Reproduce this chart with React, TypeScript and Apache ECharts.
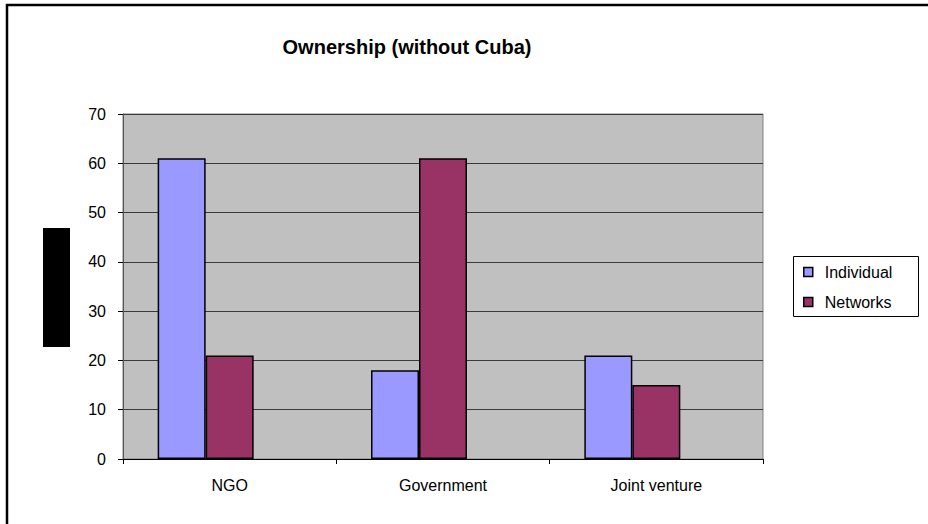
import React, { useEffect, useRef } from "react";
import * as echarts from "echarts";

const titleText = "Ownership (without Cuba)";
const categories = ["NGO", "Government", "Joint venture"];
const seriesNames = ["Individual", "Networks"];
const individualValues = [61, 18, 21];
const networksValues = [21, 61, 15];
// empty third series slot in the original workbook (reserves space in each group)
const emptyValues: (number | null)[] = [null, null, null];
const yTicks = { min: 0, max: 70, interval: 10 };

const FONT = "Liberation Sans, Arial, sans-serif";

export default function App() {
  const ref = useRef<HTMLDivElement>(null);
  useEffect(() => {
    if (!ref.current) return;
    const chart = echarts.init(ref.current, null, { renderer: "svg" });
    chart.setOption({
      animation: false,
      backgroundColor: "#ffffff",
      title: {
        text: titleText,
        left: 402,
        top: 32,
        textAlign: "center",
        textStyle: { fontFamily: FONT, fontSize: 20, fontWeight: "bold", color: "#000" },
      },
      grid: {
        left: 123,
        right: 165,
        top: 114,
        bottom: 65,
        show: true,
        backgroundColor: "#C0C0C0",
        borderColor: "#808080",
        borderWidth: 1,
      },
      legend: {
        data: seriesNames,
        orient: "vertical",
        left: 803,
        top: 264,
        padding: 0,
        itemGap: 14,
        itemWidth: 9,
        itemHeight: 9,
        icon: "rect",
        itemStyle: { borderColor: "#000", borderWidth: 1.5 },
        textStyle: { fontFamily: FONT, fontSize: 16, color: "#000", lineHeight: 16, padding: [0, 0, 0, 7] },
      },
      xAxis: {
        type: "category",
        data: categories,
        axisLine: { show: true, lineStyle: { color: "#000", width: 1 } },
        axisTick: { show: true, length: 5, inside: false, lineStyle: { color: "#000" } },
        axisLabel: { fontFamily: FONT, fontSize: 16, color: "#000", margin: 18 },
        splitLine: { show: false },
      },
      yAxis: {
        type: "value",
        min: yTicks.min,
        max: yTicks.max,
        interval: yTicks.interval,
        axisLine: { show: true, lineStyle: { color: "#555", width: 1 } },
        axisTick: { show: true, length: 5, inside: false, lineStyle: { color: "#000" } },
        axisLabel: { fontFamily: FONT, fontSize: 16, color: "#000", margin: 17 },
        splitLine: { show: true, lineStyle: { color: "#3a3a3a", width: 1 } },
      },
      series: [
        {
          name: seriesNames[0],
          type: "bar",
          data: individualValues,
          barGap: "0%",
          barCategoryGap: "32.5%",
          itemStyle: { color: "#9999FF", borderColor: "#000", borderWidth: 1.5 },
        },
        {
          name: seriesNames[1],
          type: "bar",
          data: networksValues,
          barGap: "0%",
          barCategoryGap: "32.5%",
          itemStyle: { color: "#993366", borderColor: "#000", borderWidth: 1.5 },
        },
        {
          name: "_empty",
          type: "bar",
          data: emptyValues,
          barGap: "0%",
          barCategoryGap: "32.5%",
          itemStyle: { color: "#FFFFCC", borderColor: "#000", borderWidth: 1.5 },
        },
      ],
      graphic: [
        { type: "line", shape: { x1: 6, y1: 5, x2: 928, y2: 5 }, style: { stroke: "#000", lineWidth: 2.5 } },
        { type: "line", shape: { x1: 7, y1: 4, x2: 7, y2: 524 }, style: { stroke: "#000", lineWidth: 2.5 } },
        { type: "rect", shape: { x: 43, y: 228, width: 27, height: 119 }, style: { fill: "#000" } },
        {
          type: "rect",
          shape: { x: 793.5, y: 256.5, width: 125, height: 60 },
          style: { fill: "none", stroke: "#000", lineWidth: 1 },
          z: 0,
        },
      ],
    });
    return () => chart.dispose();
  }, []);
  return (
    <div
      ref={ref}
      style={{ position: "fixed", left: 0, top: 0, width: 928, height: 524 }}
    />
  );
}
